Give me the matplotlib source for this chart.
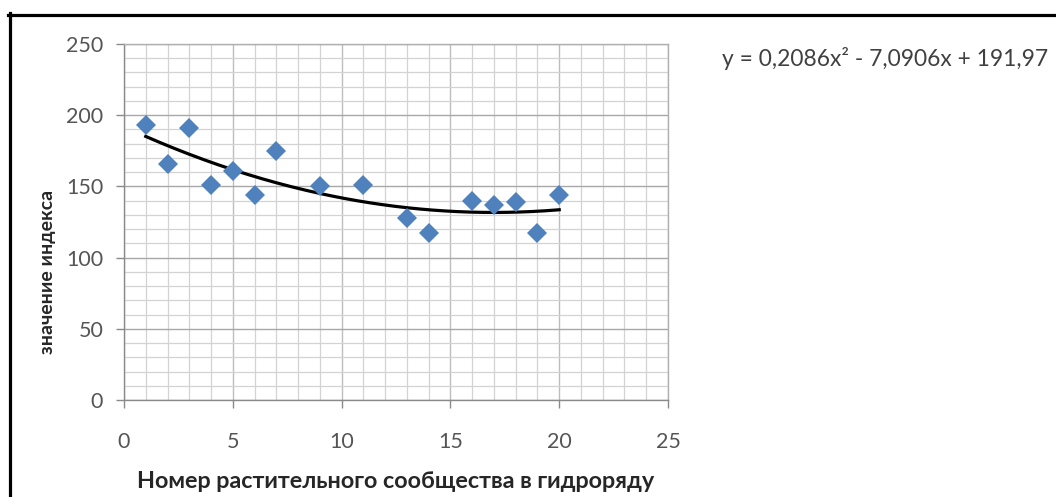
import matplotlib
matplotlib.use("Agg")
import matplotlib.pyplot as plt
import numpy as np
from matplotlib.lines import Line2D
from matplotlib.ticker import MultipleLocator

# community number along the hydro-series and index value
community = [1, 2, 3, 4, 5, 6, 7, 9, 11, 13, 14, 16, 17, 18, 19, 20]
index_value = [193, 166, 191, 151, 161, 144, 175, 150, 151, 128, 117, 140, 137, 139, 117, 144]

# polynomial trend (order 2) coefficients
trend_a, trend_b, trend_c = 0.2086, -7.0906, 191.97
trend_label = "y = 0,2086x² - 7,0906x + 191,97"

x_ticks = [0, 5, 10, 15, 20, 25]
y_ticks = [0, 50, 100, 150, 200, 250]

plt.rcParams["font.family"] = ["Lato", "Open Sans", "DejaVu Sans"]

W, H = 1056, 497
fig = plt.figure(figsize=(W / 100, H / 100), dpi=100)
ax = fig.add_axes([124 / W, (H - 400) / H, 544 / W, 356 / H])

ax.set_xlim(0, 25)
ax.set_ylim(0, 250)
ax.set_xticks(x_ticks)
ax.set_yticks(y_ticks)
ax.xaxis.set_minor_locator(MultipleLocator(1))
ax.yaxis.set_minor_locator(MultipleLocator(10))

ax.grid(which="major", axis="y", color="#a8a8a8", linewidth=1.0)
ax.grid(which="major", axis="x", color="#bdbdbd", linewidth=1.0)
ax.grid(which="minor", color="#d3d3d3", linewidth=0.9)
ax.set_axisbelow(True)

for side in ("top", "right"):
    ax.spines[side].set_color("#b0b0b0")
    ax.spines[side].set_linewidth(1.0)
for side in ("left", "bottom"):
    ax.spines[side].set_color("#8a8a8a")
    ax.spines[side].set_linewidth(1.0)

ax.tick_params(which="major", length=6, width=1, color="#8a8a8a",
               labelsize=15.5, labelcolor="#555555")
ax.tick_params(axis="y", which="major", pad=9)
ax.tick_params(axis="x", which="major", pad=17)
ax.tick_params(which="minor", length=0)

xs = np.linspace(min(community), max(community), 200)
ax.plot(xs, trend_a * xs ** 2 + trend_b * xs + trend_c,
        color="black", linewidth=2.3, zorder=2)
ax.plot(community, index_value, linestyle="none", marker="D",
        markersize=10.5, color="#4f81bd", markeredgewidth=0, zorder=3)

fig.text(396 / W, (H - 488) / H, "Номер растительного сообщества в гидроряду",
         ha="center", va="baseline", fontsize=16.8, fontweight="bold",
         color="#262626")
fig.text(48 / W, (H - 272) / H, "значение индекса", rotation=90,
         ha="center", va="center", fontsize=14, fontweight="bold",
         color="#262626")
fig.text(722 / W, (H - 58) / H, trend_label, ha="left", va="center",
         fontsize=16.4, color="#404040")

# black frame along the top and left edges
fig.add_artist(Line2D([9.5 / W, 9.5 / W], [0, (H - 13) / H],
                      transform=fig.transFigure, color="black", linewidth=2.3))
fig.add_artist(Line2D([8 / W, 1], [(H - 14.5) / H, (H - 14.5) / H],
                      transform=fig.transFigure, color="black", linewidth=2.3))

fig.savefig("out.png", dpi=100)
plt.close(fig)
